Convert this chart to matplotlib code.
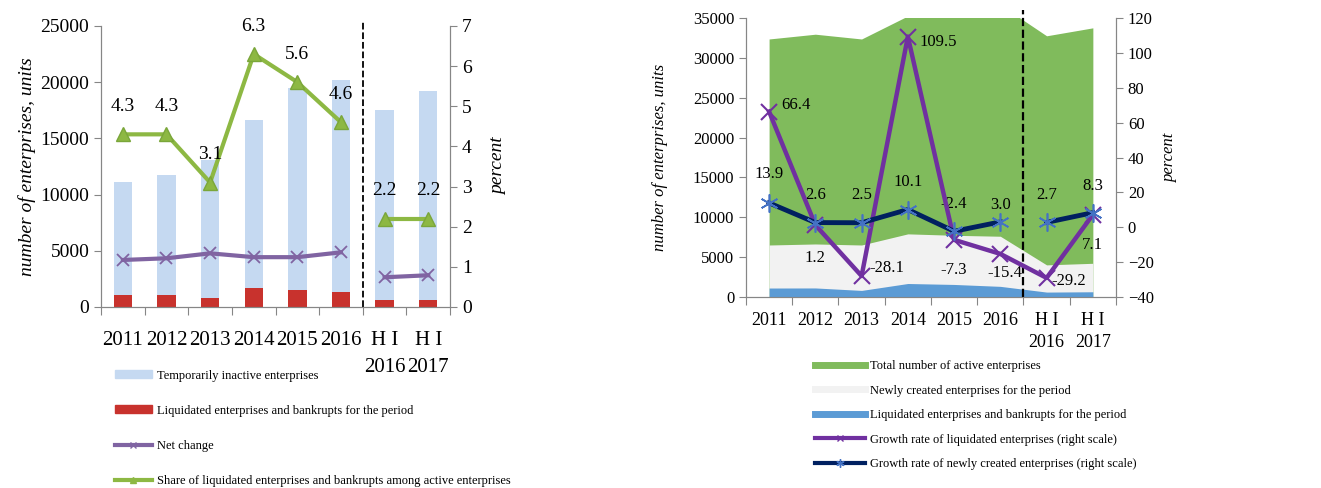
import matplotlib.pyplot as plt
from matplotlib.lines import Line2D
from matplotlib.patches import Patch
import numpy as np

plt.rcParams['font.family'] = ['Liberation Serif', 'DejaVu Serif']

# Categories
periods = ['2011', '2012', '2013', '2014', '2015', '2016', 'H I\n2016', 'H I\n2017']

# Left chart data
inactive = [11100, 11750, 13050, 16650, 19500, 20200, 17500, 19200]
liquidated = [1090, 1100, 790, 1660, 1540, 1300, 580, 620]
net_change = [4180, 4330, 4770, 4430, 4430, 4860, 2640, 2820]
liq_share = [4.3, 4.3, 3.1, 6.3, 5.6, 4.6, 2.2, 2.2]

# Right chart data
active_total = [32400, 33000, 32400, 35300, 36000, 36700, 32800, 33800]
newly_created = [6500, 6630, 6500, 7900, 7720, 7600, 4000, 4200]
liq_growth = [66.4, 1.2, -28.1, 109.5, -7.3, -15.4, -29.2, 7.1]
new_growth = [13.9, 2.6, 2.5, 10.1, -2.4, 3.0, 2.7, 8.3]

x = np.arange(len(periods))
spine_col = '#868686'

fig = plt.figure(figsize=(13.21, 4.88), dpi=100)


def style_axes(ax, ax2, fs, pad, lsp):
    ax.set_xlim(-0.5, len(periods) - 0.5)
    ax.set_xticks(np.arange(-0.5, len(periods)))
    ax.set_xticklabels([])
    ax.set_xticks(x, minor=True)
    ax.set_xticklabels(periods, minor=True, fontsize=fs + 1)
    ax.tick_params(axis='x', which='minor', length=0, pad=pad)
    ax.tick_params(axis='x', which='major', length=6, color=spine_col, direction='out')
    for lab in ax.get_xticklabels(minor=True):
        lab.set_linespacing(lsp)
    for a in (ax, ax2):
        a.spines['top'].set_visible(False)
        for s in ('left', 'right', 'bottom'):
            a.spines[s].set_color(spine_col)
        a.tick_params(axis='y', labelsize=fs, length=5, color=spine_col)


# ---------------- left chart ----------------
ax = fig.add_axes([0.0765, 0.371, 0.2642, 0.5758])
ax2 = ax.twinx()
ax.bar(x, inactive, width=0.42, color='#c5d9f1', zorder=1)
ax.bar(x, liquidated, width=0.42, color='#c8322d', zorder=2)
for seg in (slice(0, 6), slice(6, 8)):
    ax.plot(x[seg], net_change[seg], color='#8064a2', lw=3, marker='x', ms=9,
            mew=1.3, zorder=3)
    ax2.plot(x[seg], liq_share[seg], color='#8db843', lw=3, marker='^', ms=10,
             mfc='#8db843', mec='#7aa63a', zorder=3)
for xi, v in zip(x, liq_share):
    ax2.annotate(f'{v:.1f}', (xi, v), xytext=(0, 20), textcoords='offset points',
                 ha='center', va='center', fontsize=14)
ax.set_ylim(0, 25000)
ax.set_yticks(range(0, 25001, 5000))
ax2.set_ylim(0, 7)
ax2.set_yticks(range(0, 8))
ax.set_ylabel('number of enterprises, units', style='italic', fontsize=14, labelpad=3)
ax2.set_ylabel('percent', style='italic', fontsize=14, rotation=90, labelpad=13)
style_axes(ax, ax2, 14, 17, 1.6)
ax.axvline(5.5, ymin=0, ymax=1.02, color='black', ls='--', lw=1.3, clip_on=False,
           zorder=5)

h_left = [Patch(color='#c5d9f1'), Patch(color='#c8322d'),
          Line2D([], [], color='#8064a2', lw=3, marker='x', ms=5),
          Line2D([], [], color='#8db843', lw=3, marker='^', ms=5)]
l_left = ['Temporarily inactive enterprises',
          'Liquidated enterprises and bankrupts for the period',
          'Net change',
          'Share of liquidated enterprises and bankrupts among active enterprises']
fig.legend(h_left, l_left, loc='upper left', bbox_to_anchor=(0.083, 0.253),
           frameon=False, fontsize=9, handlelength=3.0, handleheight=0.6,
           labelspacing=1.85, handletextpad=0.4, borderaxespad=0)

# ---------------- right chart ----------------
bx = fig.add_axes([0.5647, 0.392, 0.2801, 0.5705])
bx2 = bx.twinx()
bx.fill_between(x, active_total, color='#80bb5c', lw=0, zorder=1)
bx.fill_between(x, newly_created, color='#f2f2f2', lw=0, zorder=2)
bx.fill_between(x, liquidated, color='#5b9bd5', lw=0, zorder=3)
bx2.plot(x, liq_growth, color='#7030a0', lw=3.2, marker='x', ms=11, mew=1.5,
         zorder=4)
for seg in (slice(0, 6), slice(6, 8)):
    bx2.plot(x[seg], new_growth[seg], color='#002060', lw=3.5, marker=(6, 2, 0),
             ms=13, mec='#4472c4', mew=1.2, zorder=5)

liq_off = [(19, 5), (0, -24), (18, 6), (22, -4), (0, -22), (3, -14), (16, -2), (0, -22)]
new_off = [(0, 21), (0, 20), (0, 20), (0, 20), (0, 20), (0, 12), (0, 20), (0, 19)]
for xi, v, off in zip(x, liq_growth, liq_off):
    bx2.annotate(f'{v:.1f}', (xi, v), xytext=off, textcoords='offset points',
                 ha='center', va='center', fontsize=12)
for xi, v, off in zip(x, new_growth, new_off):
    bx2.annotate(f'{v:.1f}', (xi, v), xytext=off, textcoords='offset points',
                 ha='center', va='center', fontsize=12)
bx.set_ylim(0, 35000)
bx.set_yticks(range(0, 35001, 5000))
bx2.set_ylim(-40, 120)
bx2.set_yticks(range(-40, 121, 20))
bx.set_ylabel('number of enterprises, units', style='italic', fontsize=12, labelpad=18)
bx2.set_ylabel('percent', style='italic', fontsize=12, rotation=90, labelpad=6)
style_axes(bx, bx2, 12, 11, 1.35)
bx.axvline(5.5, ymin=0, ymax=1.03, color='black', ls='--', lw=1.6, clip_on=False,
           zorder=6)

h_right = [Line2D([], [], color='#80bb5c', lw=5),
           Line2D([], [], color='#f2f2f2', lw=5),
           Line2D([], [], color='#5b9bd5', lw=5),
           Line2D([], [], color='#7030a0', lw=3, marker='x', ms=5),
           Line2D([], [], color='#002060', lw=3, marker=(6, 2, 0), ms=6, mec='#4472c4')]
l_right = ['Total number of active enterprises',
           'Newly created enterprises for the period',
           'Liquidated enterprises and bankrupts for the period',
           'Growth rate of liquidated enterprises (right scale)',
           'Growth rate of newly created enterprises (right scale)']
fig.legend(h_right, l_right, loc='upper left', bbox_to_anchor=(0.613, 0.272),
           frameon=False, fontsize=9, handlelength=4.0,
           labelspacing=1.0, handletextpad=0.4, borderaxespad=0)

fig.savefig('out.png', dpi=100)
